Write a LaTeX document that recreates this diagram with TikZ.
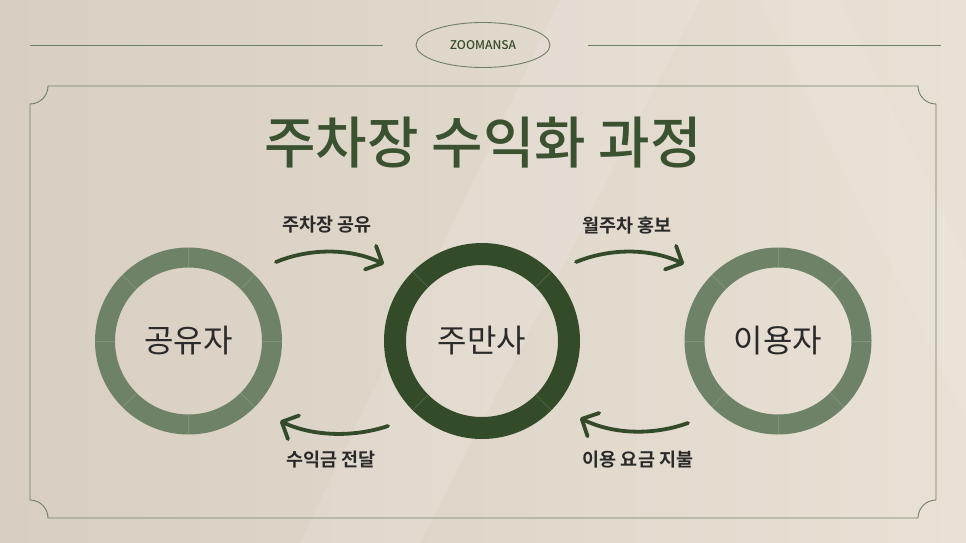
\documentclass[tikz,border=0pt]{standalone}
\usepackage{fontspec}
\setmainfont{Noto Sans CJK KR}
\newfontfamily\krbold{Noto Sans CJK KR Bold}
\newfontfamily\krmed{Noto Sans CJK KR Medium}
\usetikzlibrary{arrows.meta,shapes.geometric,calc}
\definecolor{bgL}{HTML}{D8CEC2}
\definecolor{bgR}{HTML}{E9E1D5}
\definecolor{dkgreen}{HTML}{344B2A}
\definecolor{ttlgreen}{HTML}{3A5230}
\definecolor{ringgreen}{HTML}{6E8268}
\definecolor{framecol}{HTML}{6F7E65}
\definecolor{txtdark}{HTML}{2A2A2A}
\tikzset{
  frameline/.style={draw=framecol, line width=0.9pt},
  circlabel/.style={font=\fontsize{32}{36}\selectfont, text=txtdark},
  steplabel/.style={font=\krbold\fontsize{18.5}{22}\selectfont, text=txtdark},
  flowarrow/.style={draw=dkgreen, line width=3.8pt, line cap=round,
     -{Straight Barb[length=13pt, width=26pt, line width=3.8pt, line cap=round, line join=round]}},
  segline/.style={draw=white, opacity=0.12, line width=0.8pt},
}
\begin{document}
\begin{tikzpicture}[x=1pt,y=-1pt]
\useasboundingbox (0,0) rectangle (966,543);
\shade[left color=bgL, right color=bgR, shading angle=90] (0,0) rectangle (966,543);
% soft light streaks
\fill[white, opacity=0.10] (560,0) -- (700,0) -- (420,543) -- (300,543) -- cycle;
\fill[white, opacity=0.07] (760,0) -- (840,0) -- (966,260) -- (966,420) -- cycle;

% header
\node[draw=framecol, line width=0.9pt, ellipse, minimum width=134pt, minimum height=45pt, inner sep=0pt,
      font=\krmed\fontsize{12}{14}\selectfont, text=dkgreen] (logo) at (483,45) {ZOOMANSA};
\coordinate (hlA) at (30,45);
\coordinate (hrB) at (941,45);
\draw[frameline] (hlA) -- (383,45);
\draw[frameline] (588,45) -- (hrB);

% frame with concave corners
\draw[frameline]
  (48,86) -- (918,86)
  arc[start angle=180, end angle=90, radius=18] -- (936,500)
  arc[start angle=270, end angle=180, radius=18] -- (48,518)
  arc[start angle=360, end angle=270, radius=18] -- (30,104)
  arc[start angle=90, end angle=0, radius=18] -- cycle;

% title
\node[font=\krmed\fontsize{56}{62}\selectfont, text=ttlgreen] (title) at (483,143) {주차장 수익화 과정};

% rings
\coordinate (cL) at (188.5,341);
\coordinate (cM) at (482,341);
\coordinate (cR) at (778,341);
\draw[ringgreen, line width=20pt] (cL) circle[radius=83.5];
\draw[dkgreen, line width=22pt] (cM) circle[radius=87];
\draw[ringgreen, line width=20pt] (cR) circle[radius=83.5];
\foreach \a in {0,45,...,315}{
  \draw[segline] ($(cL)+(\a:73.5)$) -- ($(cL)+(\a:93.5)$);
  \draw[segline] ($(cR)+(\a:73.5)$) -- ($(cR)+(\a:93.5)$);
}
\foreach \a in {45,135,225,315}{
  \draw[segline] ($(cM)+(\a:76)$) -- ($(cM)+(\a:98)$);
}
\node[circlabel] (share) at (cL) {공유자};
\node[circlabel] (zms) at (cM) {주만사};
\node[circlabel] (user) at (cR) {이용자};

% arrows
\coordinate (a1s) at (276,262);
\coordinate (a1e) at (384,264);
\draw[flowarrow] (a1s) .. controls (310,248) and (350,248) .. (a1e);
\coordinate (a2s) at (576,262);
\coordinate (a2e) at (684,264);
\draw[flowarrow] (a2s) .. controls (610,248) and (650,248) .. (a2e);
\coordinate (a3s) at (388,426);
\coordinate (a3e) at (280,421);
\draw[flowarrow] (a3s) .. controls (352,438) and (312,436) .. (a3e);
\coordinate (a4s) at (688,423);
\coordinate (a4e) at (580,418);
\draw[flowarrow] (a4s) .. controls (652,436) and (612,434) .. (a4e);

\node[steplabel] (l1) at (327,225) {주차장 공유};
\node[steplabel] (l2) at (627,226) {월주차 홍보};
\node[steplabel] (l3) at (331,460) {수익금 전달};
\node[steplabel] (l4) at (638,460) {이용 요금 지불};
\end{tikzpicture}
\end{document}
